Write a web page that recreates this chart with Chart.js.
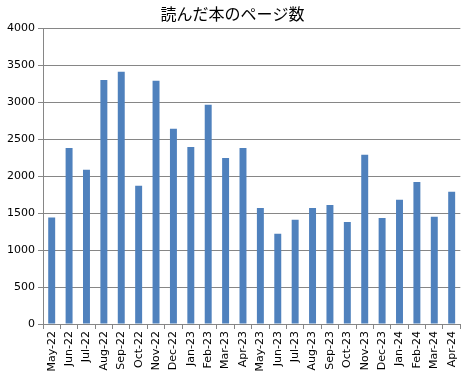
<!DOCTYPE html>
<html><head><meta charset="utf-8">
<script src="https://cdn.jsdelivr.net/npm/chart.js@4/dist/chart.umd.min.js"></script>
<style>html,body{margin:0;padding:0;background:#fff}#wrap{width:467px;height:379px}</style>
</head><body><div id="wrap"><canvas id="c" width="467" height="379"></canvas></div>
<script>
const categories = ["May-22","Jun-22","Jul-22","Aug-22","Sep-22","Oct-22","Nov-22","Dec-22","Jan-23","Feb-23","Mar-23","Apr-23","May-23","Jun-23","Jul-23","Aug-23","Sep-23","Oct-23","Nov-23","Dec-23","Jan-24","Feb-24","Mar-24","Apr-24"];
const pages = [1440,2380,2085,3300,3410,1870,3290,2640,2395,2965,2245,2380,1570,1220,1410,1570,1610,1380,2290,1435,1680,1920,1450,1790];
const yTicks = [0,500,1000,1500,2000,2500,3000,3500,4000];
const titleText = "読んだ本のページ数";

new Chart(document.getElementById('c'), {
  type: 'bar',
  data: { labels: categories, datasets: [{ data: pages, backgroundColor: '#4F81BD', borderWidth: 0, barPercentage: 0.4, categoryPercentage: 1.0 }] },
  options: {
    responsive: false, animation: false,
    layout: { padding: { left: 4, right: 6, top: 0, bottom: 0 } },
    plugins: {
      legend: { display: false }, tooltip: { enabled: false },
      title: { display: true, text: titleText, color: '#000', font: { family: '"Noto Sans CJK JP"', size: 16, weight: 'normal' }, padding: { top: 4, bottom: 5 } }
    },
    scales: {
      x: {
        offset: true,
        afterFit: (ax) => { ax.height = 55; },
        grid: { display: true, drawOnChartArea: false, drawTicks: true, tickLength: 5, color: '#868686', offset: true },
        border: { display: true, color: '#868686' },
        ticks: { color: '#000', font: { family: 'DejaVu Sans', size: 11 }, maxRotation: 90, minRotation: 90, autoSkip: false, padding: 2 }
      },
      y: {
        min: 0, max: 4000,
        afterBuildTicks: (ax) => { ax.ticks = yTicks.map(v => ({ value: v })); },
        afterFit: (ax) => { ax.width = 39; },
        grid: { color: '#868686', tickLength: 5 },
        border: { display: true, color: '#868686' },
        ticks: { color: '#000', font: { family: 'DejaVu Sans', size: 11 }, padding: 3, callback: (v) => String(v) }
      }
    }
  }
});
</script></body></html>
